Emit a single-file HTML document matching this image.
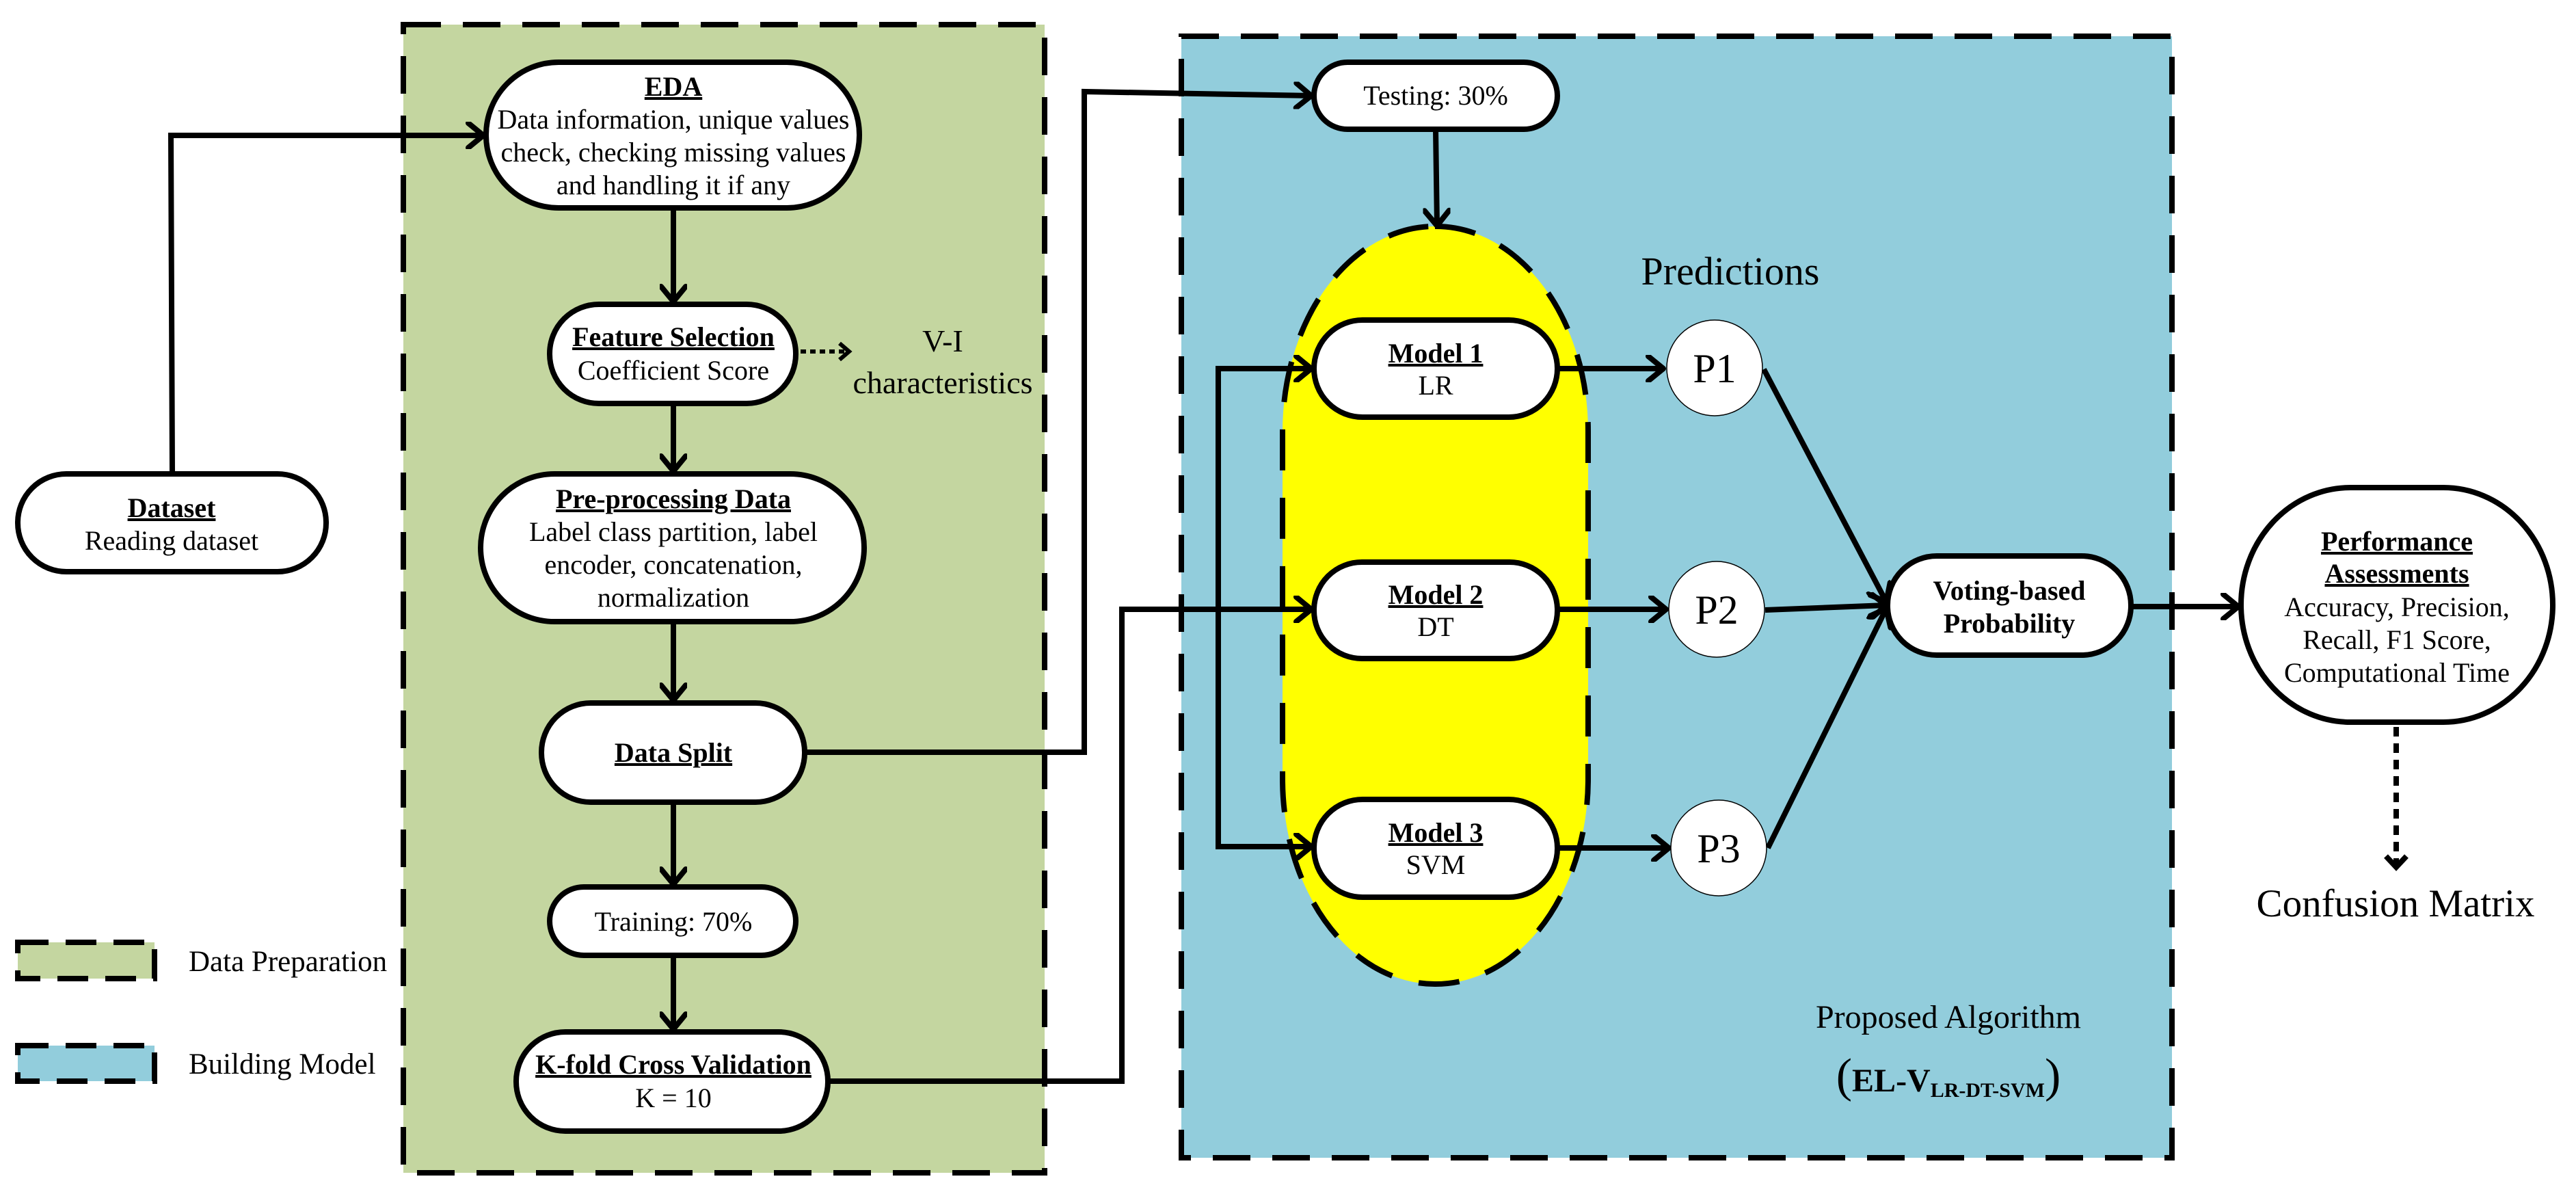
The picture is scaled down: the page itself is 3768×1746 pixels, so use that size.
<!DOCTYPE html>
<html><head><meta charset="utf-8"><style>
html,body{margin:0;padding:0;background:#fff;}
svg{display:block;font-family:"Liberation Serif","Times New Roman","DejaVu Serif",serif;}
svg text{font-family:"Liberation Serif","Times New Roman","DejaVu Serif",serif;fill:#000;}
.b{font-weight:bold;text-decoration:underline;}
</style></head><body>
<svg width="3768" height="1746" viewBox="0 0 3768 1746" xmlns="http://www.w3.org/2000/svg" font-family="Liberation Serif, DejaVu Serif, serif">
<defs>
<marker id="a" markerUnits="userSpaceOnUse" markerWidth="40" markerHeight="40" refX="30" refY="20" orient="auto">
<polyline points="8,2 30,20 8,38" fill="none" stroke="#000" stroke-width="8" stroke-linecap="round" stroke-linejoin="round"/>
</marker>
</defs>
<rect x="590" y="36" width="938" height="1679" fill="#C4D6A0" stroke="#000" stroke-width="8" stroke-dasharray="55,32"/>
<rect x="1728" y="53" width="1449" height="1640" fill="#92CDDC" stroke="#000" stroke-width="8" stroke-dasharray="55,32"/>
<rect x="1876" y="331" width="447" height="1108" rx="223" ry="300" fill="#FFFF00" stroke="#000" stroke-width="8" stroke-dasharray="60,40"/>
<rect x="26" y="1378" width="200" height="53" fill="#C4D6A0" stroke="#000" stroke-width="8" stroke-dasharray="45,25"/>
<rect x="26" y="1529" width="200" height="52" fill="#92CDDC" stroke="#000" stroke-width="8" stroke-dasharray="45,25"/>
<text x="276" y="1420" font-size="43">Data Preparation</text>
<text x="276" y="1570" font-size="43">Building Model</text>

<g fill="none" stroke="#000" stroke-width="8">
<polyline points="252,693 250,198 707,198" marker-end="url(#a)"/>
<line x1="985" y1="304" x2="985" y2="441" marker-end="url(#a)"/>
<line x1="985" y1="590" x2="985" y2="689" marker-end="url(#a)"/>
<line x1="985" y1="909" x2="985" y2="1024" marker-end="url(#a)"/>
<line x1="985" y1="1173" x2="985" y2="1293" marker-end="url(#a)"/>
<line x1="985" y1="1397" x2="985" y2="1505" marker-end="url(#a)"/>
<polyline points="1177,1100 1586,1100 1586,134 1918,140" marker-end="url(#a)"/>
<polyline points="1211,1581 1641,1581 1641,891 1918,891" marker-end="url(#a)"/>
<polyline points="1918,539 1782,539 1782,1238 1918,1238"/>
<line x1="1860" y1="539" x2="1918" y2="539" marker-end="url(#a)"/>
<line x1="1860" y1="1238" x2="1918" y2="1238" marker-end="url(#a)"/>
<line x1="2100" y1="189" x2="2102" y2="330" marker-end="url(#a)"/>
<line x1="2278" y1="539" x2="2433" y2="539" marker-end="url(#a)"/>
<line x1="2278" y1="891" x2="2437" y2="891" marker-end="url(#a)"/>
<line x1="2278" y1="1240" x2="2441" y2="1240" marker-end="url(#a)"/>
<line x1="2580" y1="540" x2="2759" y2="880" marker-end="url(#a)"/>
<line x1="2582" y1="892" x2="2759" y2="885" marker-end="url(#a)"/>
<line x1="2586" y1="1240" x2="2759" y2="890" marker-end="url(#a)"/>
<line x1="3117" y1="887" x2="3274" y2="887" marker-end="url(#a)"/>
</g>
<g fill="none" stroke="#000" stroke-width="6">
<line x1="1171" y1="514" x2="1240" y2="514" stroke-dasharray="8,6"/>
<polyline points="1228,502 1242,514 1228,526"/>
<line x1="3505" y1="1063" x2="3505" y2="1265" stroke-width="8" stroke-dasharray="14,10"/>
<polyline points="3490,1252 3505,1268 3520,1252" stroke-width="8"/>
</g>

<g fill="#fff" stroke="#000" stroke-width="8">
<rect x="26" y="693" width="451" height="143" rx="71"/>
<rect x="711" y="91" width="546" height="213" rx="106"/>
<rect x="804" y="445" width="360" height="145" rx="72"/>
<rect x="703" y="693" width="561" height="216" rx="108"/>
<rect x="792" y="1028" width="385" height="145" rx="72"/>
<rect x="804" y="1297" width="360" height="100" rx="50"/>
<rect x="755" y="1509" width="456" height="145" rx="72"/>
<rect x="1922" y="91" width="356" height="98" rx="49"/>
<rect x="1922" y="468" width="356" height="142" rx="71"/>
<rect x="1922" y="822" width="356" height="141" rx="70"/>
<rect x="1922" y="1169" width="356" height="143" rx="71"/>
<rect x="2761" y="813" width="356" height="145" rx="72"/>
<rect x="3278" y="713" width="456" height="343" rx="160" ry="180"/>
</g>
<g fill="#fff" stroke="#000" stroke-width="1.5">
<circle cx="2508" cy="538" r="70"/>
<circle cx="2511" cy="891" r="70"/>
<circle cx="2514" cy="1240" r="70"/>
</g>

<g text-anchor="middle" font-size="40">
<text x="251" y="756" class="b">Dataset</text>
<text x="251" y="804">Reading dataset</text>
<text x="985" y="140" class="b">EDA</text>
<text x="985" y="188" textLength="515" lengthAdjust="spacingAndGlyphs">Data information, unique values</text>
<text x="985" y="236" textLength="505" lengthAdjust="spacingAndGlyphs">check, checking missing values</text>
<text x="985" y="284">and handling it if any</text>
<text x="985" y="506" class="b">Feature Selection</text>
<text x="985" y="555">Coefficient Score</text>
<text x="985" y="743" class="b">Pre-processing Data</text>
<text x="985" y="791">Label class partition, label</text>
<text x="985" y="839">encoder, concatenation,</text>
<text x="985" y="887">normalization</text>
<text x="985" y="1114" class="b">Data Split</text>
<text x="985" y="1361">Training: 70%</text>
<text x="985" y="1570" class="b">K-fold Cross Validation</text>
<text x="985" y="1619">K = 10</text>
<text x="2100" y="153">Testing: 30%</text>
<text x="2100" y="530" class="b">Model 1</text>
<text x="2100" y="577">LR</text>
<text x="2100" y="883" class="b">Model 2</text>
<text x="2100" y="930">DT</text>
<text x="2100" y="1231" class="b">Model 3</text>
<text x="2100" y="1278">SVM</text>
<text x="2939" y="877" font-weight="bold">Voting-based</text>
<text x="2939" y="925" font-weight="bold">Probability</text>
<text x="3506" y="805" class="b">Performance</text>
<text x="3506" y="852" class="b">Assessments</text>
<text x="3506" y="901">Accuracy, Precision,</text>
<text x="3506" y="949">Recall, F1 Score,</text>
<text x="3506" y="997">Computational Time</text>
<text x="2508" y="559" font-size="60">P1</text>
<text x="2511" y="912" font-size="60">P2</text>
<text x="2514" y="1261" font-size="60">P3</text>
<text x="1379" y="514" font-size="46">V-I</text>
<text x="1379" y="575" font-size="46">characteristics</text>
<text x="2531" y="416" font-size="58">Predictions</text>
<text x="3504" y="1340" font-size="57">Confusion Matrix</text>
<text x="2850" y="1503" font-size="48">Proposed Algorithm</text>
<text x="2850" y="1596" font-size="48" font-weight="bold"><tspan font-size="70" font-weight="normal">(</tspan>EL-V<tspan font-size="30" dy="8">LR-DT-SVM</tspan><tspan font-size="70" font-weight="normal" dy="-8">)</tspan></text>
</g>
</svg>
</body></html>
